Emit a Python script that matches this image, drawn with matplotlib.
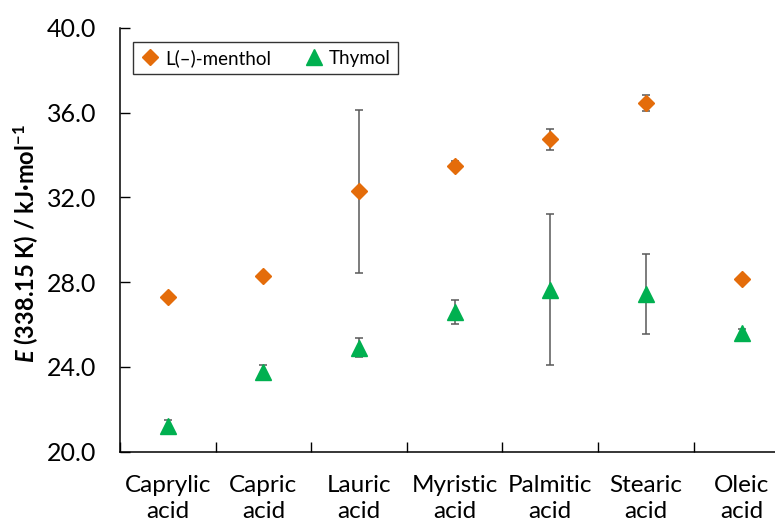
import numpy as np
import matplotlib as mpl
mpl.use('Agg')
import matplotlib.pyplot as plt
from matplotlib.ticker import FixedLocator, MultipleLocator, FormatStrFormatter

mpl.rcParams.update({
    'font.family': ['Lato', 'DejaVu Sans'],
    'mathtext.fontset': 'custom', 'mathtext.rm': 'Lato', 'mathtext.bf': 'Lato:bold',
    'mathtext.it': 'Lato:italic', 'mathtext.bfit': 'Lato:italic:bold',
})

C_MEN, C_THY, C_ERR = '#E46C0A', '#00B050', '#595959'

acids = ['Caprylic\nacid', 'Capric\nacid', 'Lauric\nacid', 'Myristic\nacid',
         'Palmitic\nacid', 'Stearic\nacid', 'Oleic\nacid']
menthol = [27.3, 28.3, 32.3, 33.5, 34.75, 36.45, 28.15]
menthol_err = [0.1, 0.1, 3.85, 0.2, 0.5, 0.38, 0.1]
thymol = [21.2, 23.75, 24.9, 26.6, 27.65, 27.45, 25.6]
thymol_err = [0.3, 0.35, 0.45, 0.55, 3.56, 1.9, 0.2]

x = np.arange(len(acids))

fig = plt.figure(figsize=(7.75, 5.32), dpi=100)
ax = fig.add_axes([120/775, 1-451.7/532, 655/775, (451.7-28)/532])

ax.errorbar(x, menthol, yerr=menthol_err, fmt='none', ecolor=C_ERR, elinewidth=1.1,
            capsize=3, capthick=1.1, zorder=2)
ax.errorbar(x, thymol, yerr=thymol_err, fmt='none', ecolor=C_ERR, elinewidth=1.1,
            capsize=3, capthick=1.1, zorder=2)
ax.plot(x, menthol, linestyle='none', marker='D', ms=8.3, color=C_MEN, mec=C_MEN,
        label='L(–)-menthol', zorder=3)
ax.plot(x, thymol, linestyle='none', marker='^', ms=12, color=C_THY, mec=C_THY,
        label='Thymol', zorder=3)

ax.set_ylim(20, 40)
ax.set_xlim(-0.5, 6.35)
ax.yaxis.set_major_locator(MultipleLocator(4))
ax.yaxis.set_major_formatter(FormatStrFormatter('%.1f'))
ax.set_xticks(x)
ax.set_xticklabels(acids, linespacing=1.3)
ax.xaxis.set_minor_locator(FixedLocator(np.arange(-0.5, 7, 1.0)))
ax.tick_params(axis='x', which='major', length=0, pad=17, labelsize=17.5)
ax.tick_params(axis='x', which='minor', direction='in', length=7, width=1)
ax.tick_params(axis='y', direction='in', length=7, width=1, pad=17, labelsize=18)
for s in ['top', 'right']:
    ax.spines[s].set_visible(False)
for s in ['left', 'bottom']:
    ax.spines[s].set_linewidth(1.1)

fig.text(26/775, 0.543, r'$\mathbfit{E}$ (338.15 K) / kJ·mol$^{\mathbf{-1}}$',
         rotation=90, ha='center', va='center', fontsize=17, fontweight='bold')

leg = ax.legend(ncol=2, loc='upper left', bbox_to_anchor=(133/775, 1-41.5/532),
                bbox_transform=fig.transFigure, fontsize=13.5, frameon=True, fancybox=False,
                edgecolor='black', borderpad=0.4, handlelength=1.0, handletextpad=0.3,
                columnspacing=1.8, borderaxespad=0)
leg.get_frame().set_linewidth(1.0)

fig.savefig('out.png', dpi=100)
